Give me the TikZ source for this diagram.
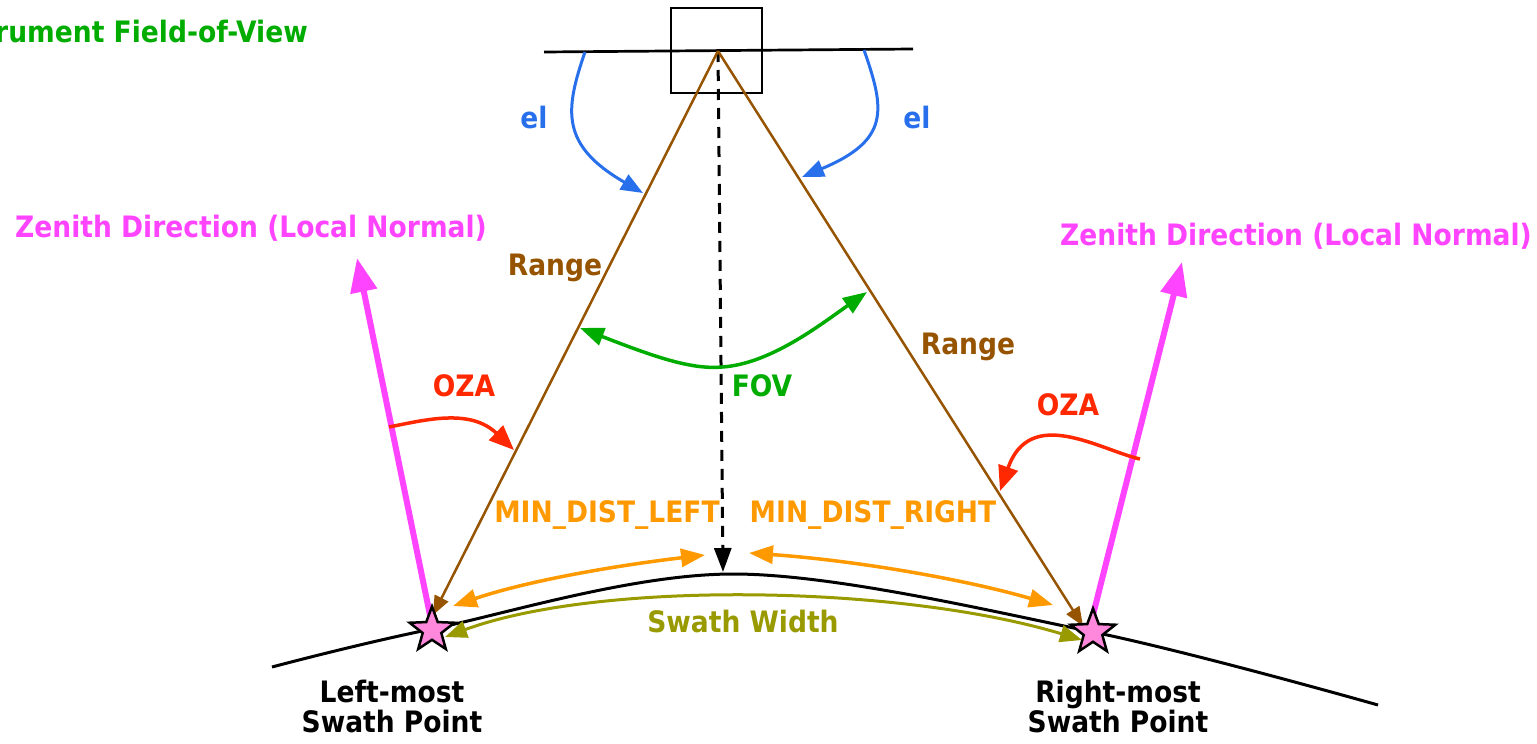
\documentclass[tikz,border=0pt]{standalone}
\usepackage{fontspec}
\setmainfont{DejaVu Sans Condensed}
\usetikzlibrary{arrows.meta,shapes.geometric}

\definecolor{fovgreen}{RGB}{0,172,0}
\definecolor{zenith}{RGB}{255,68,255}
\definecolor{elblue}{RGB}{40,112,235}
\definecolor{rangebrown}{RGB}{150,84,0}
\definecolor{ozared}{RGB}{255,40,0}
\definecolor{distorange}{RGB}{255,153,0}
\definecolor{swatholive}{RGB}{153,153,0}
\definecolor{starpink}{RGB}{255,136,221}

\tikzset{
  lbl/.style={font=\bfseries\fontsize{29.5}{30}\selectfont, inner sep=0pt, align=center},
  rangeline/.style={rangebrown, line width=2.5pt, -{Triangle[length=19pt,width=15pt]}},
  zenline/.style={zenith, line width=6pt, -{Triangle[length=34pt,width=26pt]}},
  elarrow/.style={elblue, line width=3pt, -{Triangle[length=22pt,width=17pt]}},
  ozaarrow/.style={ozared, line width=3.5pt, -{Triangle[length=25pt,width=20pt]}},
  fovarrow/.style={fovgreen, line width=3.5pt, {Triangle[length=24pt,width=18pt]}-{Triangle[length=24pt,width=18pt]}},
  distarrow/.style={distorange, line width=3.5pt, {Triangle[length=24pt,width=18pt]}-{Triangle[length=24pt,width=18pt]}},
  swatharrow/.style={swatholive, line width=3pt, {Triangle[length=22pt,width=17pt]}-{Triangle[length=22pt,width=17pt]}},
  nadirline/.style={black, line width=3pt, dash pattern=on 11pt off 8pt, -{Triangle[length=24pt,width=17pt]}},
  starnode/.style={star, star points=5, star point ratio=2.4, minimum size=47pt, inner sep=0pt, fill=starpink, draw=black, line width=2.5pt}
}

\begin{document}
\begin{tikzpicture}[x=1pt, y=-1pt]
\path[use as bounding box] (0,0) rectangle (1537,744);
\clip (0,0) rectangle (1537,744);

% ground surface
\draw[line width=3pt] plot[smooth, tension=0.55] coordinates {(272,667) (432,629) (735,574) (1093,632) (1378,705)};

% instrument and its horizontal reference
\node[draw, line width=2.5pt, minimum width=91pt, minimum height=85pt, inner sep=0pt] (inst) at (716.5,50.5) {};
\coordinate (hl) at (544,52);
\coordinate (hr) at (913,49);
\draw[line width=2.7pt] (hl) -- (hr);
\coordinate (apex) at (718,51);

% swath points
\coordinate (lsp) at (432,630);
\coordinate (rsp) at (1093,632);
\coordinate (ltip) at (433,615);
\coordinate (rtip) at (1083,626);

% nadir
\coordinate (nadir) at (723,572);
\draw[nadirline] (apex) -- (nadir);

% range lines
\draw[rangeline] (apex) -- (ltip);
\draw[rangeline] (apex) -- (rtip);

% zenith directions
\coordinate (lzbase) at (432,625);
\coordinate (lztip) at (357,258);
\coordinate (rzbase) at (1093,615);
\coordinate (rztip) at (1182,262);
\draw[zenline] (lzbase) -- (lztip);
\draw[zenline] (rzbase) -- (rztip);

\node[starnode] (lstar) at (lsp) {};
\node[starnode] (rstar) at (rsp) {};

% elevation angles
\coordinate (els) at (585,52);
\coordinate (ele) at (643,193);
\coordinate (ers) at (864,50);
\coordinate (ere) at (802,177);
\draw[elarrow] (els) .. controls (565,110) and (560,145) .. (ele);
\draw[elarrow] (ers) .. controls (885,110) and (890,140) .. (ere);

% field of view
\coordinate (fovl) at (580,328);
\coordinate (fovm) at (722,367);
\coordinate (fovr) at (867,292);
\draw[fovarrow] (fovl) .. controls (650,355) and (690,370) .. (fovm) .. controls (770,364) and (820,325) .. (fovr);

% observation zenith angles
\coordinate (lozas) at (389,427);
\coordinate (lozae) at (514,450);
\coordinate (rozas) at (1140,459);
\coordinate (rozae) at (1000,491);
\draw[ozaarrow] (lozas) .. controls (425,420) and (470,408) .. (lozae);
\draw[ozaarrow] (rozas) .. controls (1100,450) and (1030,405) .. (rozae);

% minimum distances
\coordinate (mdl1) at (453,606);
\coordinate (mdl2) at (705,555);
\coordinate (mdr1) at (749,553);
\coordinate (mdr2) at (1053,605);
\draw[distarrow] (mdl1) .. controls (530,580) and (620,565) .. (mdl2);
\draw[distarrow] (mdr1) .. controls (850,560) and (960,578) .. (mdr2);

% swath width
\coordinate (swl) at (445,637);
\coordinate (swr) at (1082,640);
\draw[swatharrow] (swl) .. controls (600,580) and (900,585) .. (swr);

% labels
\node[lbl, fovgreen, anchor=east] (title) at (308,32) {Instrument Field-of-View};
\node[lbl, zenith] (lzen) at (251,228) {Zenith Direction (Local Normal)};
\node[lbl, zenith] (rzen) at (1296,236) {Zenith Direction (Local Normal)};
\node[lbl, elblue] (ell) at (534,118) {el};
\node[lbl, elblue] (elr) at (917,118) {el};
\node[lbl, rangebrown] (rangel) at (555,268) {Range};
\node[lbl, rangebrown] (ranger) at (968,347) {Range};
\node[lbl, fovgreen] (fov) at (762,386) {FOV};
\node[lbl, ozared] (ozal) at (464,386) {OZA};
\node[lbl, ozared] (ozar) at (1068,405) {OZA};
\node[lbl, distorange] (mdl) at (607,515) {MIN\_DIST\_LEFT};
\node[lbl, distorange] (mdr) at (873,515) {MIN\_DIST\_RIGHT};
\node[lbl, swatholive] (sw) at (743,621) {Swath Width};
\node[lbl, black, anchor=base] (lspl) at (392,732) {Left-most\\Swath Point};
\node[lbl, black, anchor=base] (rspl) at (1118,732) {Right-most\\Swath Point};
\end{tikzpicture}
\end{document}
